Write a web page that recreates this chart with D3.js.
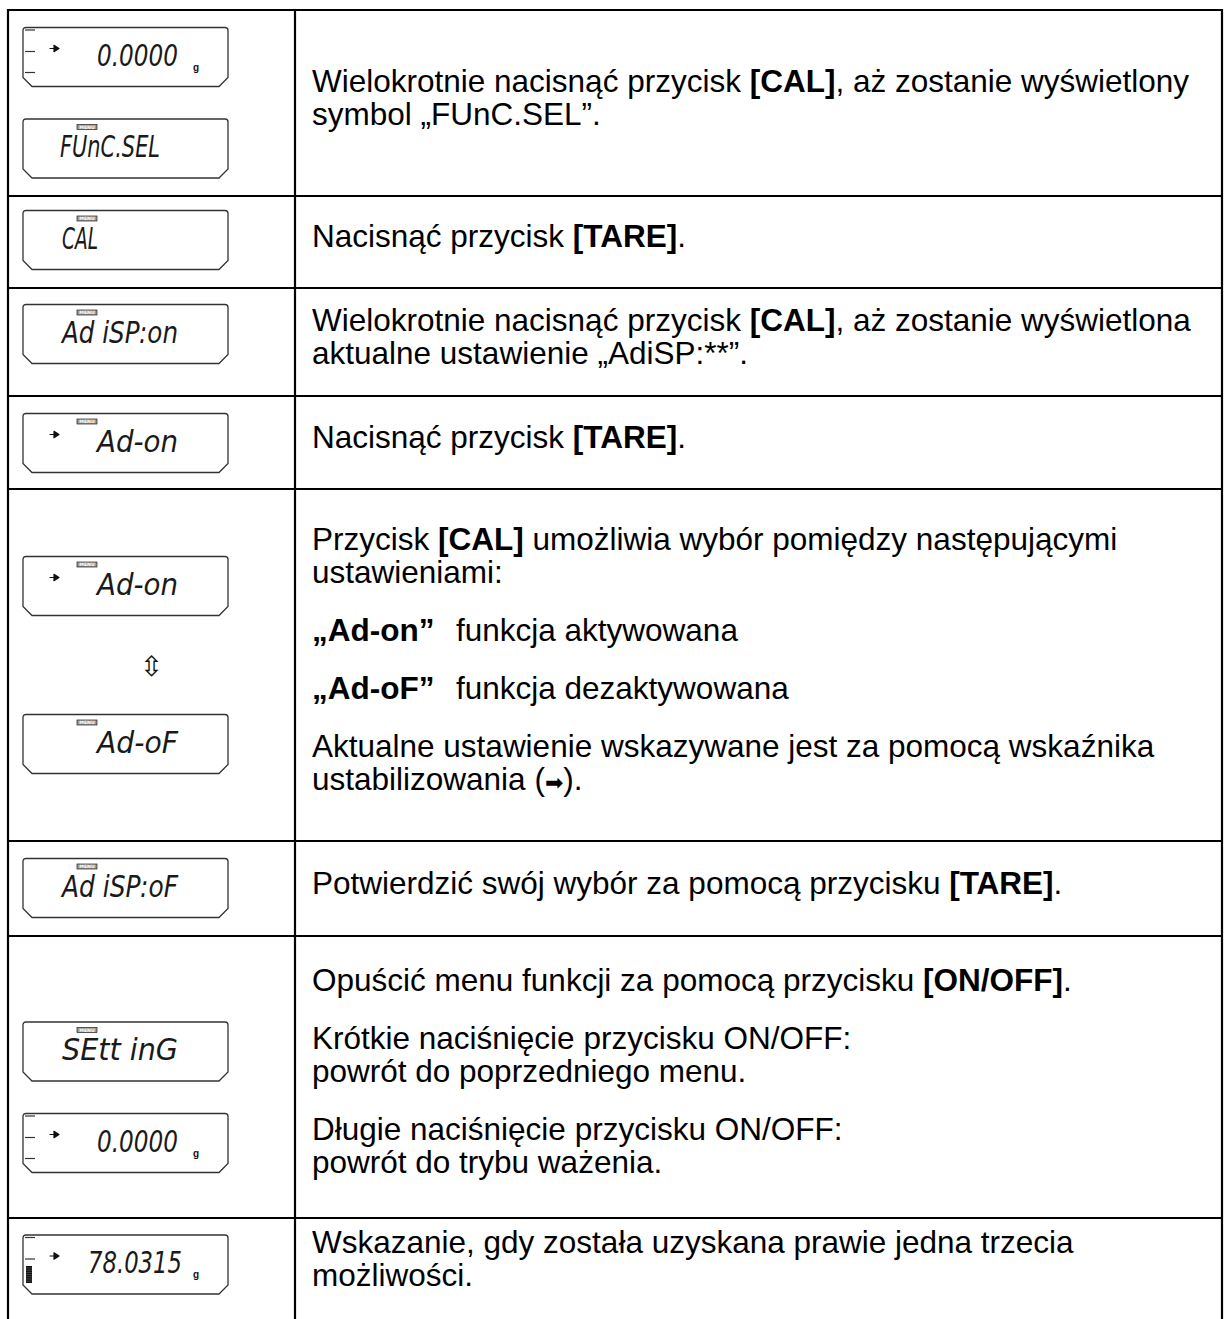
<!DOCTYPE html>
<html><head><meta charset="utf-8">
<script src="https://cdn.jsdelivr.net/npm/d3@7"></script>
<style>html,body{margin:0;padding:0;background:#fff;}svg{display:block;}</style>
</head><body>
<script>
// ---------- DATA ----------
const rowHeights = [186, 92, 108, 93, 352, 95, 282, 93];

const displayRow   = [0, 0, 1, 2, 3, 4, 4, 5, 6, 6, 7];
const displayText  = ["0.0000", "FUnC.SEL", "CAL", "Ad iSP:on", "Ad-on", "Ad-on", "Ad-oF", "Ad iSP:oF", "SEtt inG", "0.0000", "78.0315"];
const displayKind  = ["weight", "menu", "menu", "menu", "menu", "menu", "menu", "menu", "menu", "weight", "weightBar"];
const displayArrow = [true, false, false, false, true, true, false, false, false, true, true];
const displayUnit  = ["g", "", "", "", "", "", "", "", "", "g", "g"];

// row text: each row = list of lines; a line = {p: starts new paragraph, segs:[[text, style]]}
const rowLines = [
  [ {p:0, segs:[["Wielokrotnie nacisnąć przycisk ",""],["[CAL]","b"],[", aż zostanie wyświetlony",""]]},
    {p:0, segs:[["symbol „FUnC.SEL”.",""]]} ],
  [ {p:0, segs:[["Nacisnąć przycisk ",""],["[TARE]","b"],[".",""]]} ],
  [ {p:0, segs:[["Wielokrotnie nacisnąć przycisk ",""],["[CAL]","b"],[", aż zostanie wyświetlona",""]]},
    {p:0, segs:[["aktualne ustawienie „AdiSP:**”.",""]]} ],
  [ {p:0, segs:[["Nacisnąć przycisk ",""],["[TARE]","b"],[".",""]]} ],
  [ {p:0, segs:[["Przycisk ",""],["[CAL]","b"],[" umożliwia wybór pomiędzy następującymi",""]]},
    {p:0, segs:[["ustawieniami:",""]]},
    {p:1, segs:[["„Ad-on”","b"],["funkcja aktywowana","t"]]},
    {p:1, segs:[["„Ad-oF”","b"],["funkcja dezaktywowana","t"]]},
    {p:1, segs:[["Aktualne ustawienie wskazywane jest za pomocą wskaźnika",""]]},
    {p:0, segs:[["ustabilizowania (",""],["➡","s"],[").",""]]} ],
  [ {p:0, segs:[["Potwierdzić swój wybór za pomocą przycisku ",""],["[TARE]","b"],[".",""]]} ],
  [ {p:0, segs:[["Opuścić menu funkcji za pomocą przycisku ",""],["[ON/OFF]","b"],[".",""]]},
    {p:1, segs:[["Krótkie naciśnięcie przycisku ON/OFF:",""]]},
    {p:0, segs:[["powrót do poprzedniego menu.",""]]},
    {p:1, segs:[["Długie naciśnięcie przycisku ON/OFF:",""]]},
    {p:0, segs:[["powrót do trybu ważenia.",""]]} ],
  [ {p:0, segs:[["Wskazanie, gdy została uzyskana prawie jedna trzecia",""]]},
    {p:0, segs:[["możliwości.",""]]} ]
];

// ---------- LAYOUT ----------
const L = {
  top: 10, left: 8, divider: 295, right: 1222,
  textX: 312, tabX: 456, fontSize: 31.5, capH: 22.6, lineStep: 33, paraStep: 58, shift: -6,
  dispX: 23, dispW: 205, dispH: 59,
  dispCenter: [47, 138.5, 44, 46, 47, 97, 255, 47, 115.5, 207, 46.5],
  textRange: [[74,155],[37,137],[39,75],[39,155],[74,155],[74,155],[74,155],[39,155],[39,155],[74,155],[65,159]],
  swapRow: 4, swapCenter: 177
};

const W = 1224, H = 1319;
const svg = d3.select("body").append("svg").attr("width", W).attr("height", H);

const bounds = [L.top, ...Array.from(d3.cumsum(rowHeights), v => v + L.top)];
const rowY = d3.scaleOrdinal().domain(d3.range(rowHeights.length)).range(bounds.slice(0, -1));

// ---------- TABLE GRID ----------
const grid = svg.append("g").attr("stroke", "#000").attr("stroke-width", 2.2);
grid.selectAll("line.h").data(bounds.slice(0, -1)).join("line")
  .attr("x1", L.left - 1).attr("x2", L.right + 1).attr("y1", d => d).attr("y2", d => d);
grid.selectAll("line.v").data([L.left, L.divider, L.right]).join("line")
  .attr("x1", d => d).attr("x2", d => d).attr("y1", L.top - 1).attr("y2", H + 5);

// ---------- TEXT COLUMN ----------
const txt = svg.append("g").attr("font-family", "'Liberation Sans', Arial, sans-serif")
  .attr("font-size", L.fontSize).attr("fill", "#000");
rowLines.forEach((lines, r) => {
  const span = d3.sum(lines.slice(1), ln => ln.p ? L.paraStep : L.lineStep);
  let y = rowY(r) + (rowHeights[r] - (L.capH + span)) / 2 + L.capH + L.shift;
  lines.forEach((ln, i) => {
    if (i > 0) y += ln.p ? L.paraStep : L.lineStep;
    const t = txt.append("text").attr("x", L.textX).attr("y", y);
    ln.segs.forEach(([s, st]) => {
      const ts = t.append("tspan").text(s);
      if (st === "b") ts.attr("font-weight", "bold");
      if (st === "t") ts.attr("x", L.tabX);
      if (st === "s") ts.attr("font-family", "'DejaVu Sans', sans-serif").attr("font-size", 22);
    });
  });
});

// ---------- LCD DISPLAYS ----------
const w = L.dispW, h = L.dispH, c = 9;
const outline = `M0,3 Q0,0 3,0 H${w-3} Q${w},0 ${w},3 V${h-c} L${w-c},${h} H${c} L0,${h-c} Z`;

const disp = svg.selectAll("g.disp").data(displayText.map((t, i) => ({i, t})))
  .join("g").attr("class", "disp")
  .attr("transform", d => `translate(${L.dispX},${rowY(displayRow[d.i]) + L.dispCenter[d.i] - h/2})`);

disp.append("path").attr("d", outline).attr("fill", "#fff").attr("stroke", "#333").attr("stroke-width", 1.3);

// side ticks for weighing displays
disp.filter(d => displayKind[d.i] !== "menu").each(function(d) {
  const g = d3.select(this);
  const ys = displayKind[d.i] === "weightBar" ? [2.5, 24] : [2.5, 24, 45];
  g.selectAll("line.tick").data(ys).join("line")
    .attr("x1", 2).attr("x2", 12).attr("y1", v => v).attr("y2", v => v)
    .attr("stroke", "#333").attr("stroke-width", 1.2);
  if (displayKind[d.i] === "weightBar") {
    g.append("rect").attr("x", 3).attr("y", 31).attr("width", 6).attr("height", 17).attr("fill", "#111");
    g.selectAll("line.stripe").data(d3.range(33, 48, 2.2)).join("line")
      .attr("x1", 3).attr("x2", 9).attr("y1", v => v).attr("y2", v => v)
      .attr("stroke", "#777").attr("stroke-width", 0.5);
  }
});

// MENU indicator
disp.filter(d => displayKind[d.i] === "menu").each(function() {
  const g = d3.select(this);
  g.append("rect").attr("x", 54).attr("y", 5.5).attr("width", 20).attr("height", 5)
    .attr("fill", "#9a9a9a").attr("stroke", "#222").attr("stroke-width", 0.7);
  g.append("text").attr("x", 64).attr("y", 9.7).attr("text-anchor", "middle")
    .attr("font-family", "'DejaVu Sans', sans-serif").attr("font-size", 4.6).attr("font-weight", "bold")
    .attr("fill", "#fff").text("MENU");
});

// stability arrow
disp.filter(d => displayArrow[d.i]).append("path")
  .attr("d", "M27,21 H31 V17.8 L36,21 L31,24.2 V21 Z")
  .attr("fill", "#111").attr("stroke", "#111").attr("stroke-width", 1.2).attr("stroke-linejoin", "round");

// main LCD text (narrow, tall italic glyphs like the segment display)
disp.append("text")
  .attr("x", 0).attr("y", 0)
  .attr("transform", d => `translate(${L.textRange[d.i][0]},38) scale(1,1.45)`)
  .attr("textLength", d => L.textRange[d.i][1] - L.textRange[d.i][0])
  .attr("lengthAdjust", "spacingAndGlyphs")
  .attr("font-family", "'DejaVu Sans', sans-serif").attr("font-style", "italic")
  .attr("font-size", 20.5).attr("fill", "#1a1a1a")
  .text(d => d.t);

// unit
disp.filter(d => displayUnit[d.i]).append("text")
  .attr("x", 170).attr("y", 43).attr("font-family", "'Liberation Sans', Arial, sans-serif")
  .attr("font-weight", "bold").attr("font-size", 10).attr("fill", "#111")
  .text(d => displayUnit[d.i]);

// swap arrow between the two toggle displays
svg.append("text").attr("x", L.dispX + w * 0.627).attr("y", rowY(L.swapRow) + L.swapCenter + 10)
  .attr("text-anchor", "middle").attr("font-family", "'DejaVu Sans', sans-serif")
  .attr("font-size", 28).attr("fill", "#111").text("⇳");
</script>
</body></html>
